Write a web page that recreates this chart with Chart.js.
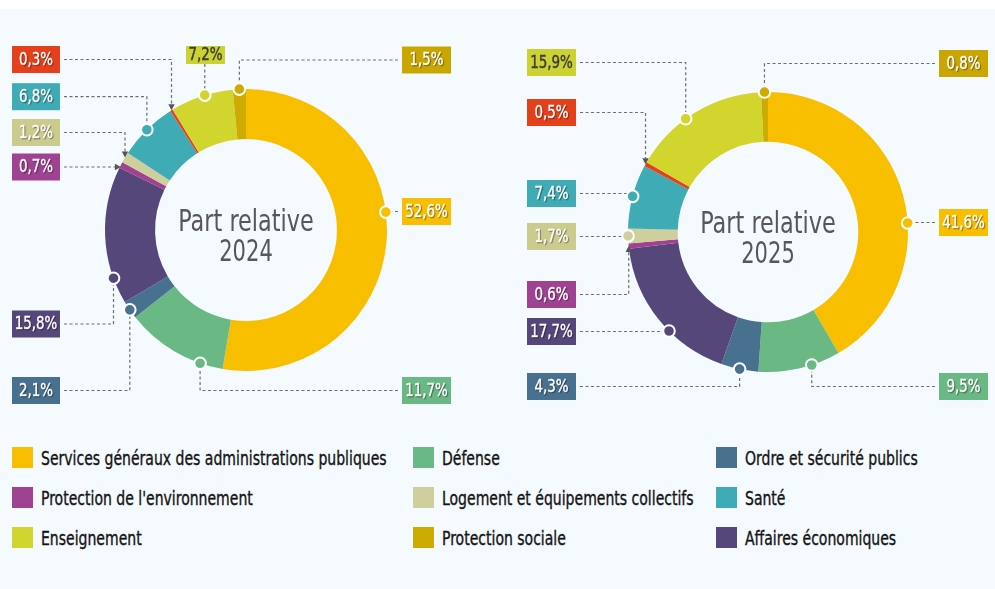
<!DOCTYPE html>
<html lang="fr">
<head>
<meta charset="utf-8">
<title>Part relative 2024 / 2025</title>
<script src="https://cdn.jsdelivr.net/npm/chart.js@4.4.1/dist/chart.umd.min.js"></script>
<style>
  html, body { margin: 0; padding: 0; background: #fff; }
  #page { position: relative; width: 995px; height: 589px; overflow: hidden; }
  #panel { position: absolute; left: 0; top: 9px; width: 995px; height: 580px; background: #f5fafe; }
  #page canvas { position: absolute; left: 0; top: 0; }
  .item {
    position: absolute; height: 21px; display: flex; align-items: center; white-space: nowrap;
    font: 19px "DejaVu Sans Condensed", "DejaVu Sans", sans-serif; color: #141414;
    -webkit-text-stroke: 0.35px #141414;
  }
  .item i { display: inline-block; flex: none; width: 21px; height: 21px; margin-right: 8px; }
  .item span { display: inline-block; transform: scaleX(0.82); transform-origin: 0 50%; }
</style>
</head>
<body>
<div id="page">
  <div id="panel"></div>
  <canvas id="chart2024" width="995" height="430"></canvas>
  <canvas id="chart2025" width="995" height="430"></canvas>
  <div id="legend"></div>
</div>
<script>
const categories = [
  'Services généraux des administrations publiques',
  'Défense',
  'Ordre et sécurité publics',
  'Affaires économiques',
  "Protection de l'environnement",
  'Logement et équipements collectifs',
  'Santé',
  'Loisirs, culture et culte',
  'Enseignement',
  'Protection sociale'
];
const share2024 = [52.6, 11.7, 2.1, 15.8, 0.7, 1.2, 6.8, 0.3, 7.2, 1.5];
const share2025 = [41.6, 9.5, 4.3, 17.7, 0.6, 1.7, 7.4, 0.5, 15.9, 0.8];
const colors = ['#f8be00', '#6ab984', '#48708f', '#554779', '#a04292', '#cecf9c', '#3eabb5', '#e5411b', '#d1d52e', '#cdab00'];
const boxColors = ['#f8be00', '#6ab984', '#48708f', '#554779', '#a04292', '#cccb8e', '#3eabb5', '#e4401b', '#cdd233', '#c9a700'];
const darkText = [8];
// legend is filled row by row, three columns; culture is not listed
const legendOrder = [0, 1, 2, 4, 5, 6, 8, 9, 3];

const FONT = '"DejaVu Sans Condensed", "DejaVu Sans", sans-serif';

// callout boxes: box left x, box centre y, width, height,
// optional pin angle (degrees clockwise from top), arrow instead of a dot
const callouts2024 = [
  { x: 402, y: 211.5, w: 49, h: 27, deg: 82.7 },
  { x: 402, y: 390.5, w: 49, h: 27, deg: 199 },
  { x: 12, y: 390.5, w: 48, h: 27 },
  { x: 12, y: 324, w: 48, h: 27, deg: 250 },
  { x: 12, y: 167, w: 48, h: 27, arrow: true },
  { x: 12, y: 132.5, w: 48, h: 27, arrow: true },
  { x: 12, y: 96.7, w: 48, h: 27 },
  { x: 12, y: 59.5, w: 48, h: 27, arrow: true },
  { x: 186, y: 55, w: 39, h: 18, deg: 343 },
  { x: 402, y: 60, w: 49, h: 27 }
];
const callouts2025 = [
  { x: 939, y: 222.5, w: 49, h: 27, deg: 86.3 },
  { x: 939, y: 386.5, w: 49, h: 27, deg: 161.8 },
  { x: 527, y: 386.5, w: 49, h: 27 },
  { x: 527, y: 331.5, w: 49, h: 27, deg: 225 },
  { x: 527, y: 294.5, w: 49, h: 27, arrow: true },
  { x: 527, y: 236.5, w: 49, h: 27 },
  { x: 527, y: 193.5, w: 49, h: 27 },
  { x: 527, y: 112.5, w: 49, h: 27, arrow: true },
  { x: 527, y: 62.5, w: 49, h: 27, deg: 324 },
  { x: 939, y: 63.5, w: 49, h: 27 }
];

function fmt(v) {
  return v.toFixed(1).replace('.', ',') + '%';
}

// text squeezed horizontally to get a condensed look
function narrowText(ctx, text, x, y, sx, stroke) {
  ctx.save();
  ctx.translate(x, y);
  ctx.scale(sx, 1);
  if (stroke) {
    ctx.lineWidth = stroke;
    ctx.strokeStyle = ctx.fillStyle;
    ctx.strokeText(text, 0, 0);
  }
  ctx.fillText(text, 0, 0);
  ctx.restore();
}

function arrowHead(ctx, x, y, dx, dy) {
  const len = 6, half = 3.2;
  const bx = x - dx * len, by = y - dy * len;
  ctx.beginPath();
  ctx.moveTo(x, y);
  ctx.lineTo(bx - dy * half, by + dx * half);
  ctx.lineTo(bx + dy * half, by - dx * half);
  ctx.closePath();
  ctx.fill();
}

function calloutPlugin(year, layout) {
  return {
    id: 'callouts' + year,
    afterDatasetsDraw(chart) {
      const ctx = chart.ctx;
      const values = chart.data.datasets[0].data;
      const arcs = chart.getDatasetMeta(0).data;
      ctx.save();

      // centre title
      const c = arcs[0].getProps(['x', 'y'], true);
      ctx.fillStyle = '#575757';
      ctx.textAlign = 'center';
      ctx.textBaseline = 'middle';
      ctx.font = '30px ' + FONT;
      narrowText(ctx, 'Part relative', c.x, c.y - 7, 0.83);
      narrowText(ctx, String(year), c.x, c.y + 23, 0.78);

      arcs.forEach((arc, i) => {
        const spec = layout[i];
        const p = arc.getProps(['x', 'y', 'startAngle', 'endAngle', 'outerRadius'], true);
        const a = spec.deg != null ? (spec.deg - 90) * Math.PI / 180 : (p.startAngle + p.endAngle) / 2;
        const px = p.x + Math.cos(a) * p.outerRadius;
        const py = p.y + Math.sin(a) * p.outerRadius;
        const left = spec.x + spec.w / 2 < p.x;
        const above = px >= spec.x && px <= spec.x + spec.w;

        // dashed leader
        ctx.strokeStyle = '#6f6f6f';
        ctx.fillStyle = '#555';
        ctx.lineWidth = 1.2;
        ctx.setLineDash([3, 2.5]);
        ctx.beginPath();
        let dir;
        if (above) {
          ctx.moveTo(px, spec.y + spec.h / 2);
          ctx.lineTo(px, spec.arrow ? py - 6 : py);
          dir = [0, 1];
        } else {
          const ex = left ? spec.x + spec.w : spec.x;
          ctx.moveTo(ex + (left ? 4 : -4), spec.y);
          if (Math.abs(py - spec.y) < 6) {
            const sx = left ? 1 : -1;
            ctx.lineTo(spec.arrow ? px - sx * 6 : px, spec.y);
            dir = [sx, 0];
          } else {
            ctx.lineTo(px, spec.y);
            const sy = py > spec.y ? 1 : -1;
            ctx.lineTo(px, spec.arrow ? py - sy * 6 : py);
            dir = [0, sy];
          }
        }
        ctx.stroke();
        ctx.setLineDash([]);

        // pin on the ring
        if (spec.arrow) {
          const ty = Math.abs(py - spec.y) < 6 && !above ? spec.y : py;
          arrowHead(ctx, px, ty, dir[0], dir[1]);
        } else {
          ctx.beginPath();
          ctx.arc(px, py, 5.8, 0, Math.PI * 2);
          ctx.fillStyle = colors[i];
          ctx.fill();
          ctx.lineWidth = 2;
          ctx.strokeStyle = '#fff';
          ctx.stroke();
        }

        // value box
        ctx.fillStyle = boxColors[i];
        ctx.fillRect(spec.x, spec.y - spec.h / 2, spec.w, spec.h);
        ctx.font = '17px ' + FONT;
        ctx.textAlign = 'center';
        ctx.textBaseline = 'middle';
        const tx = spec.x + spec.w / 2, ty = spec.y + 1;
        if (darkText.includes(i)) {
          ctx.fillStyle = '#3b3b3b';
          narrowText(ctx, fmt(values[i]), tx, ty, 0.88, 0.4);
        } else {
          ctx.save();
          ctx.shadowColor = 'rgba(0,0,0,0.35)';
          ctx.shadowOffsetX = 1;
          ctx.shadowOffsetY = 1;
          ctx.shadowBlur = 1;
          ctx.fillStyle = '#fff';
          narrowText(ctx, fmt(values[i]), tx, ty, 0.88, 0.4);
          ctx.restore();
        }
      });
      ctx.restore();
    }
  };
}

function makeDoughnut(id, year, values, padding, layout) {
  return new Chart(document.getElementById(id), {
    type: 'doughnut',
    data: {
      labels: categories,
      datasets: [{
        data: values,
        backgroundColor: colors,
        borderWidth: 0
      }]
    },
    options: {
      responsive: false,
      animation: false,
      cutout: '64.5%',
      layout: { padding },
      plugins: {
        legend: { display: false },
        tooltip: { enabled: false }
      }
    },
    plugins: [calloutPlugin(year, layout)]
  });
}

makeDoughnut('chart2024', 2024, share2024, { left: 105, right: 608, top: 89, bottom: 59 }, callouts2024);
makeDoughnut('chart2025', 2025, share2025, { left: 628, right: 87, top: 92, bottom: 58 }, callouts2025);

// legend grid
const legend = document.getElementById('legend');
const colX = [12, 413, 716];
const rowY = [447, 487, 527];
legendOrder.forEach((idx, n) => {
  const el = document.createElement('div');
  el.className = 'item';
  el.style.left = colX[n % 3] + 'px';
  el.style.top = rowY[Math.floor(n / 3)] + 'px';
  const sw = document.createElement('i');
  sw.style.background = colors[idx];
  const label = document.createElement('span');
  label.textContent = categories[idx];
  el.appendChild(sw);
  el.appendChild(label);
  legend.appendChild(el);
});
</script>
</body>
</html>
